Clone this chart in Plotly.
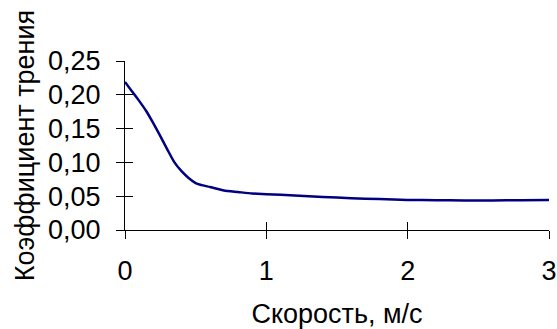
import plotly.graph_objects as go

speed = [0, 0.05, 0.1, 0.15, 0.2, 0.25, 0.3, 0.35, 0.4, 0.45, 0.5, 0.55, 0.6, 0.65,
         0.7, 0.8, 0.9, 1.0, 1.2, 1.4, 1.6, 1.8, 2.0, 2.2, 2.4, 2.6, 2.8, 3.0]
friction = [0.219, 0.205, 0.191, 0.176, 0.158, 0.139, 0.119, 0.100, 0.087, 0.077,
            0.0695, 0.066, 0.0637, 0.061, 0.0585, 0.0562, 0.054, 0.053, 0.051,
            0.049, 0.047, 0.0458, 0.0445, 0.044, 0.0438, 0.0438, 0.044, 0.0444]

x_ticks = [0, 1, 2, 3]
x_tick_text = ["0", "1", "2", "3"]
y_ticks = [0, 0.05, 0.10, 0.15, 0.20, 0.25]
y_tick_text = ["0,00", "0,05", "0,10", "0,15", "0,20", "0,25"]

FONT = "Liberation Sans, Arial, sans-serif"

fig = go.Figure()
fig.add_trace(go.Scatter(x=speed, y=friction, mode="lines",
                         line=dict(color="#000080", width=2.5, shape="spline", smoothing=0.6),
                         showlegend=False, hoverinfo="skip"))
# invisible trace for the overlay axes (inner half of cross ticks)
fig.add_trace(go.Scatter(x=[speed[0]], y=[friction[0]], xaxis="x2", yaxis="y2",
                         mode="markers", marker=dict(opacity=0), showlegend=False,
                         hoverinfo="skip"))

common_font = dict(family=FONT, size=27, color="#000000")

fig.update_layout(
    width=557, height=329,
    margin=dict(l=125, r=8, t=61, b=99),
    paper_bgcolor="white", plot_bgcolor="white",
    font=common_font,
    xaxis=dict(range=[0, 3], tickvals=x_ticks, ticktext=x_tick_text,
               ticks="outside", ticklen=8, tickcolor="#000", tickwidth=1,
               showline=True, linecolor="#000", linewidth=1, showgrid=False,
               zeroline=False, tickfont=common_font, ticklabelstandoff=9,
               automargin=False,
               title=dict(text="Скорость, м/с", font=common_font, standoff=18)),
    yaxis=dict(range=[0, 0.25], tickvals=y_ticks, ticktext=y_tick_text,
               ticks="outside", ticklen=8, tickcolor="#000", tickwidth=1,
               showline=True, linecolor="#000", linewidth=1, showgrid=False,
               zeroline=False, tickfont=common_font, ticklabelstandoff=10,
               automargin=False,
               title=dict(text="Коэффициент трения", font=common_font, standoff=5)),
    xaxis2=dict(overlaying="x", matches="x", range=[0, 3], tickvals=x_ticks,
                ticks="inside", ticklen=8, tickcolor="#000", tickwidth=1,
                showticklabels=False, showline=False, showgrid=False, zeroline=False),
    yaxis2=dict(overlaying="y", matches="y", range=[0, 0.25], tickvals=y_ticks,
                ticks="inside", ticklen=8, tickcolor="#000", tickwidth=1,
                showticklabels=False, showline=False, showgrid=False, zeroline=False),
)

fig.write_html("out.html", config={"displayModeBar": False},
               post_script="document.body.style.margin='0';")
